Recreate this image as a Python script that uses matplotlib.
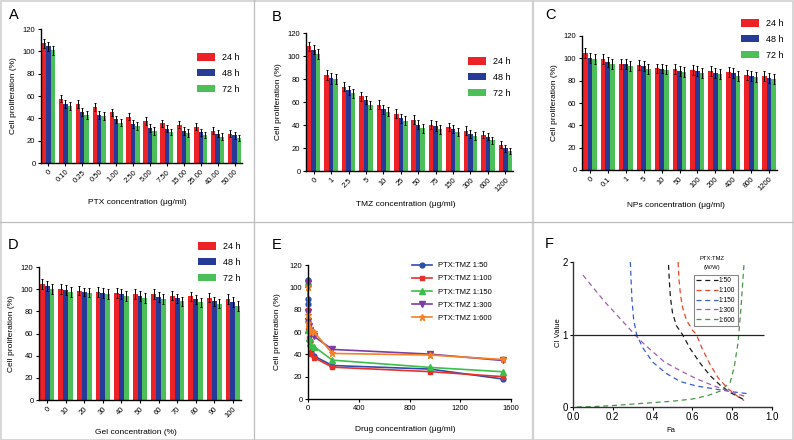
import matplotlib
matplotlib.use('Agg')
import matplotlib.pyplot as plt
import numpy as np
from matplotlib.patches import Patch
from matplotlib.lines import Line2D

plt.rcParams['font.family'] = ['Liberation Sans', 'DejaVu Sans']

W, H = 794, 440
fig = plt.figure(figsize=(7.94, 4.40), dpi=100)

# ---------------- data ----------------
series_labels = ['24 h', '48 h', '72 h']

ptx_cats = ['0', '0.10', '0.25', '0.50', '1.00', '2.50', '5.00', '7.50', '15.00', '25.00', '40.00', '50.00']
ptx_24 = [107.4, 57.7, 52.7, 50.0, 45.5, 41.6, 37.4, 35.6, 34.4, 32.6, 29.0, 26.3]
ptx_48 = [104.4, 53.0, 46.0, 43.0, 39.0, 35.0, 31.7, 30.8, 28.7, 27.5, 26.3, 24.8]
ptx_72 = [101.0, 51.0, 42.8, 42.0, 36.0, 33.0, 28.7, 27.8, 26.6, 25.1, 23.6, 22.4]
ptx_err = [4, 3.5, 3.5, 3.5, 3, 3.5, 3.5, 3, 3.5, 3, 3, 3]

tmz_cats = ['0', '1', '2.5', '5', '10', '25', '50', '75', '150', '300', '600', '1200']
tmz_24 = [108.4, 83.7, 73.3, 64.8, 57.8, 49.7, 44.5, 40.1, 38.4, 35.2, 31.7, 23.0]
tmz_48 = [105.5, 80.5, 70.0, 61.6, 53.5, 45.9, 40.1, 39.2, 36.3, 32.3, 29.7, 19.8]
tmz_72 = [101.7, 80.2, 67.7, 57.8, 51.7, 43.9, 37.2, 36.3, 34.0, 30.2, 26.7, 17.4]
tmz_err = [4, 4.5, 4, 3.5, 4, 4, 4, 4, 3.5, 3.5, 3, 3]

nps_cats = ['0', '0.1', '1', '5', '10', '50', '100', '200', '400', '800', '1200']
nps_24 = [105.0, 99.1, 95.2, 94.3, 91.0, 90.4, 89.9, 88.7, 87.5, 85.4, 84.2]
nps_48 = [100.3, 97.0, 94.6, 92.8, 90.7, 88.7, 88.4, 87.2, 86.6, 84.2, 82.7]
nps_72 = [99.7, 95.2, 93.1, 90.7, 89.9, 87.8, 86.6, 86.0, 84.5, 83.0, 81.5]
nps_err = [4.5, 4.5, 4.5, 4.5, 4, 4.5, 4.5, 4.5, 4.5, 4.5, 4.5]

gel_cats = ['0', '10', '20', '30', '40', '50', '60', '70', '80', '90', '100']
gel_24 = [104.4, 100.5, 98.7, 97.8, 96.9, 95.4, 95.4, 94.0, 93.7, 92.2, 91.0]
gel_48 = [102.6, 99.3, 97.5, 96.6, 95.7, 93.7, 92.8, 91.9, 90.7, 89.2, 88.0]
gel_72 = [100.5, 97.8, 96.9, 95.7, 94.0, 92.2, 91.0, 89.2, 88.0, 86.8, 84.4]
gel_err = [4.5, 4.5, 4, 4.5, 4.5, 4.5, 4.5, 4, 4, 4, 4.5]

# Panel E: drug concentration (ug/ml) vs proliferation
e_x = [0, 1.5, 3, 6, 12, 24, 48, 192, 960, 1536]
e_150 = [107, 90, 85, 62, 52, 42, 38.4, 30.0, 26.8, 17.9]
e_1100 = [103, 80, 62, 55, 50, 40, 37.0, 28.5, 24.5, 20.0]
e_1150 = [105, 72, 62, 55, 50, 48, 47.0, 34.8, 28.3, 24.4]
e_1300 = [104, 78, 70, 65, 62, 58, 56.0, 44.4, 40.2, 34.5]
e_1600 = [100, 75, 68, 64, 62, 60, 60.0, 40.8, 39.4, 35.4]
e_labels = ['PTX:TMZ 1:50', 'PTX:TMZ 1:100', 'PTX:TMZ 1:150', 'PTX:TMZ 1:300', 'PTX:TMZ 1:600']

# Panel F: combination index vs fraction affected
f_labels = ['1:50', '1:100', '1:150', '1:300', '1:600']
f50_x = [0.48, 0.485, 0.49, 0.50, 0.52, 0.55, 0.59, 0.64, 0.69, 0.74, 0.79, 0.86]
f50_y = [1.96, 1.70, 1.50, 1.30, 1.12, 1.0, 0.80, 0.60, 0.43, 0.30, 0.20, 0.10]
f100_x = [0.528, 0.533, 0.54, 0.55, 0.57, 0.60, 0.62, 0.65, 0.69, 0.73, 0.78, 0.83, 0.86]
f100_y = [2.0, 1.75, 1.55, 1.38, 1.20, 1.06, 1.0, 0.80, 0.58, 0.40, 0.25, 0.14, 0.09]
f150_x = [0.288, 0.292, 0.296, 0.305, 0.32, 0.35, 0.40, 0.47, 0.54, 0.62, 0.71, 0.80, 0.89]
f150_y = [2.0, 1.75, 1.49, 1.2, 1.0, 0.82, 0.62, 0.46, 0.35, 0.29, 0.25, 0.21, 0.18]
f300_x = [0.05, 0.10, 0.16, 0.22, 0.27, 0.31, 0.36, 0.41, 0.46, 0.54, 0.62, 0.70, 0.79, 0.86]
f300_y = [1.82, 1.65, 1.45, 1.27, 1.12, 1.0, 0.86, 0.74, 0.62, 0.50, 0.39, 0.30, 0.21, 0.15]
f600_x = [0.02, 0.10, 0.20, 0.30, 0.40, 0.50, 0.60, 0.68, 0.74, 0.79, 0.81, 0.83, 0.845, 0.86]
f600_y = [0.0, 0.005, 0.02, 0.04, 0.06, 0.08, 0.11, 0.16, 0.22, 0.34, 0.55, 0.9, 1.4, 2.0]

# ---------------- style ----------------
RED = '#EC2227'
BLUE = '#263B97'
GREEN = '#4CBF58'
BAR_COLORS = [RED, BLUE, GREEN]


def ax_px(l, r, t, b):
    return fig.add_axes([l / W, 1 - b / H, (r - l) / W, (b - t) / H])


def style_axes(ax, lw=1.0):
    for s in ['top', 'right']:
        ax.spines[s].set_visible(False)
    for s in ['left', 'bottom']:
        ax.spines[s].set_linewidth(lw)
        ax.spines[s].set_color('black')
    ax.tick_params(direction='out', length=2.5, width=0.8, labelsize=5.5, pad=1.5)


def bar_panel(ax, cats, vals, err, xlabel, ylab_x, xlab_y, legend_anchor):
    n = len(cats)
    x = np.arange(n)
    w = 0.26
    handles = []
    for i, (v, c) in enumerate(zip(vals, BAR_COLORS)):
        ax.bar(x + (i - 1) * w, v, w, color=c, yerr=err,
               error_kw=dict(ecolor='black', elinewidth=0.7, capsize=0.8, capthick=0.7))
        handles.append(Patch(facecolor=c, edgecolor='none', label=series_labels[i]))
    style_axes(ax)
    ax.set_xlim(-0.44, n - 1 + 0.44)
    ax.set_ylim(0, 120)
    ax.set_yticks(np.arange(0, 121, 20))
    ax.set_xticks(x)
    ax.set_xticklabels(cats, rotation=45, ha='right', rotation_mode='anchor', fontsize=5.5)
    ax.set_ylabel('Cell proliferation (%)', fontsize=6)
    ax.set_xlabel(xlabel, fontsize=6)
    ax.yaxis.set_label_coords(ylab_x, 0.5)
    ax.xaxis.set_label_coords(0.48, xlab_y)
    ax.legend(handles=handles, loc='upper left', bbox_to_anchor=legend_anchor,
              bbox_transform=fig.transFigure, frameon=False, fontsize=6.5,
              handlelength=2.0, handleheight=0.9, handletextpad=0.8,
              labelspacing=0.75, borderpad=0, borderaxespad=0)
    return ax


def fig_pt(x, y):
    return (x / W, 1 - y / H)


# Panel A
axA = ax_px(41, 242, 29, 163)
bar_panel(axA, ptx_cats, [ptx_24, ptx_48, ptx_72], ptx_err,
          'PTX concentration (\u03bcg/ml)', -0.12, -0.27, fig_pt(197, 53))
# Panel B
axB = ax_px(306, 513, 33, 171)
bar_panel(axB, tmz_cats, [tmz_24, tmz_48, tmz_72], tmz_err,
          'TMZ concentration (\u03bcg/ml)', -0.116, -0.22, fig_pt(468, 57))
# Panel C
axC = ax_px(582, 777, 36, 170)
bar_panel(axC, nps_cats, [nps_24, nps_48, nps_72], nps_err,
          'NPs concentration (\u03bcg/ml)', -0.123, -0.24, fig_pt(741, 19))
# Panel D
axD = ax_px(39, 241, 267, 400)
bar_panel(axD, gel_cats, [gel_24, gel_48, gel_72], gel_err,
          'Gel concentration (%)', -0.119, -0.22, fig_pt(198, 242))

# Panel E
axE = ax_px(308, 511, 265, 399)
e_series = [e_150, e_1100, e_1150, e_1300, e_1600]
e_colors = ['#2B4EAE', '#E8302A', '#3DBE4A', '#7B3FA0', '#F58025']
e_markers = ['o', 's', '^', 'v', '*']
e_ms = [3.5, 3.5, 3.8, 3.8, 5]
for ys, c, m, ms, lab in zip(e_series, e_colors, e_markers, e_ms, e_labels):
    axE.plot(e_x, ys, color=c, marker=m, markersize=ms, lw=1.2, label=lab)
style_axes(axE)
axE.set_xlim(0, 1600)
axE.set_ylim(0, 120)
axE.set_xticks([0, 400, 800, 1200, 1600])
axE.set_yticks(np.arange(0, 121, 20))
axE.set_ylabel('Cell proliferation (%)', fontsize=6)
axE.set_xlabel('Drug concentration (\u03bcg/ml)', fontsize=6)
axE.yaxis.set_label_coords(-0.133, 0.5)
axE.xaxis.set_label_coords(0.48, -0.2)
axE.legend(loc='upper left', bbox_to_anchor=fig_pt(412, 262), bbox_transform=fig.transFigure,
           frameon=False, fontsize=5.5, handlelength=2.6, handletextpad=0.8,
           labelspacing=0.75, borderpad=0, borderaxespad=0)
for l in axE.lines:
    l.set_clip_on(False)

# Panel F
axF = ax_px(573, 772, 262, 407)
f_data = [(f50_x, f50_y), (f100_x, f100_y), (f150_x, f150_y), (f300_x, f300_y), (f600_x, f600_y)]
f_colors = ['#1A1A1A', '#E8462A', '#3B5DC9', '#A25BB0', '#4A9448']
for (xs, ys), c, lab in zip(f_data, f_colors, f_labels):
    axF.plot(xs, ys, color=c, lw=0.9, ls=(0, (4, 3)), label=lab)
axF.hlines(1, 0.0, 0.96, color='#222222', lw=0.9)
style_axes(axF, lw=1.0)
axF.spines['left'].set_color('#333333')
axF.spines['bottom'].set_color('#333333')
axF.set_xlim(0, 1.0)
axF.set_ylim(0, 2.0)
axF.set_xticks(np.arange(0, 1.01, 0.2))
axF.set_xticklabels(['0.0', '0.2', '0.4', '0.6', '0.8', '1.0'])
axF.set_yticks([0, 1, 2])
axF.tick_params(labelsize=7, length=2.5, width=0.8, pad=1)
axF.set_ylabel('CI Value', fontsize=5.5)
axF.set_xlabel('Fa', fontsize=5.5)
axF.yaxis.set_label_coords(-0.055, 0.51)
axF.xaxis.set_label_coords(0.49, -0.14)
legF = axF.legend(loc='upper left', bbox_to_anchor=fig_pt(694, 275), bbox_transform=fig.transFigure,
                  frameon=True, fancybox=False, framealpha=1.0, fontsize=4.8, handlelength=3.2,
                  handletextpad=0.2, labelspacing=0.42, borderpad=0.35, borderaxespad=0)
legF.get_frame().set_edgecolor('#888888')
legF.get_frame().set_linewidth(0.8)
fig.text(712 / W, 1 - 258 / H, 'PTX:TMZ', fontsize=4.2, ha='center', va='center')
fig.text(712 / W, 1 - 267 / H, '(W/W)', fontsize=4.2, ha='center', va='center')

# panel letters
for letter, (x, y) in zip('ABCDEF', [(9, 15), (272, 17), (545, 15), (8, 245), (272, 245), (545, 244)]):
    fig.text(x / W, 1 - y / H, letter, fontsize=10.5, ha='left', va='center')

# separators and frame
sep = '#BDBDBD'
fig.add_artist(Line2D([254 / W, 254 / W], [0, 1], color=sep, lw=0.9, transform=fig.transFigure))
fig.add_artist(Line2D([533 / W, 533 / W], [0, 1], color='#D0D0D0', lw=1.6, transform=fig.transFigure))
fig.add_artist(Line2D([0, 1], [1 - 222 / H, 1 - 222 / H], color=sep, lw=0.9, transform=fig.transFigure))
fig.add_artist(plt.Rectangle((0.5 / W, 0.5 / H), 1 - 1.5 / W, 1 - 1.5 / H, fill=False,
                             edgecolor='#CFCFCF', lw=1.2, transform=fig.transFigure))

fig.savefig('out.png', dpi=100)
